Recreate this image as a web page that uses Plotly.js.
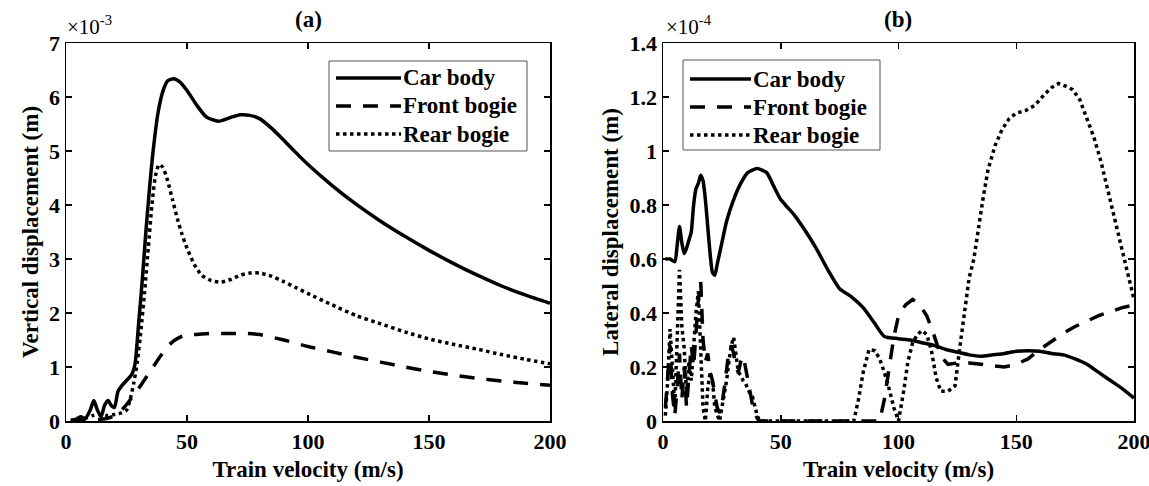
<!DOCTYPE html>
<html>
<head>
<meta charset="utf-8">
<script src="https://cdn.plot.ly/plotly-3.0.1.min.js"></script>
<style>html,body{margin:0;padding:0;background:#fff;}#chart{width:1149px;height:486px;}</style>
</head>
<body>
<div id="chart"></div>
<script>
// ---------- Panel (a): vertical displacement, x10^-3 m ----------
const carV_a = [2, 4, 6, 8, 10, 11.5, 13, 14.5, 16, 17.5, 18.5, 20, 21.5, 23, 25, 27, 28.5, 30, 31.5, 33, 34.5, 36, 38, 40, 42, 44.5, 47, 50, 54, 58, 63, 68, 72, 76, 80, 85, 90, 95, 100, 110, 120, 130, 140, 150, 160, 170, 180, 190, 200];
const carY_a = [0.02, 0.03, 0.08, 0.05, 0.2, 0.38, 0.2, 0.08, 0.3, 0.38, 0.3, 0.25, 0.55, 0.65, 0.75, 0.85, 1.05, 1.8, 2.6, 3.5, 4.3, 5.0, 5.7, 6.1, 6.3, 6.34, 6.28, 6.12, 5.85, 5.63, 5.55, 5.62, 5.67, 5.66, 5.6, 5.42, 5.2, 4.97, 4.75, 4.36, 4.01, 3.7, 3.42, 3.16, 2.92, 2.7, 2.5, 2.33, 2.18];

const frontV_a = [2, 8, 14, 18, 21, 24, 27, 30, 33, 36, 39, 42, 45, 48, 52, 56, 60, 65, 70, 75, 80, 90, 100, 110, 120, 130, 140, 150, 160, 170, 180, 190, 200];
const frontY_a = [0, 0.01, 0.03, 0.06, 0.12, 0.25, 0.42, 0.6, 0.8, 1.0, 1.2, 1.38, 1.5, 1.57, 1.6, 1.61, 1.62, 1.62, 1.62, 1.62, 1.6, 1.5, 1.38, 1.28, 1.18, 1.09, 1.0, 0.92, 0.85, 0.79, 0.74, 0.7, 0.66];

const rearV_a = [2, 5, 8, 11, 14, 17, 20, 23, 25, 26.5, 28, 29.5, 31, 32.5, 34, 35.5, 37, 38.5, 40, 42, 44, 46, 48, 50, 53, 56, 60, 64, 68, 72, 76, 80, 85, 90, 95, 100, 110, 120, 130, 140, 150, 160, 170, 180, 190, 200];
const rearY_a = [0.0, 0.02, 0.05, 0.1, 0.12, 0.1, 0.12, 0.15, 0.2, 0.4, 0.7, 1.1, 1.7, 2.4, 3.2, 4.0, 4.55, 4.75, 4.7, 4.45, 4.1, 3.75, 3.45, 3.2, 2.9, 2.7, 2.6, 2.57, 2.62, 2.7, 2.74, 2.74, 2.68, 2.58, 2.47, 2.36, 2.15, 1.95, 1.8, 1.65, 1.52, 1.42, 1.33, 1.23, 1.14, 1.06];

// ---------- Panel (b): lateral displacement, x10^-4 m ----------
const carV_b = [1, 3, 5, 6, 7, 8, 9, 10, 11, 12, 13, 14, 15, 16, 17, 18, 19, 20, 21, 22, 23, 25, 27, 30, 33, 36, 40, 44, 47, 50, 53, 56, 60, 65, 70, 75, 80, 85, 90, 94, 100, 105, 110, 115, 120, 125, 130, 135, 140, 145, 150, 155, 160, 165, 170, 175, 180, 185, 190, 195, 200];
const carY_b = [0.6, 0.6, 0.59, 0.65, 0.72, 0.66, 0.62, 0.64, 0.67, 0.7, 0.8, 0.86, 0.88, 0.91, 0.89, 0.82, 0.72, 0.62, 0.55, 0.54, 0.58, 0.66, 0.74, 0.82, 0.88, 0.92, 0.935, 0.92, 0.87, 0.82, 0.79, 0.76, 0.71, 0.64, 0.56, 0.49, 0.46, 0.42, 0.36, 0.313, 0.305, 0.3, 0.29, 0.28, 0.265, 0.255, 0.245, 0.24, 0.245, 0.25, 0.258, 0.26, 0.258, 0.25, 0.245, 0.23, 0.21, 0.18, 0.15, 0.12, 0.085];

const frontV_b = [1, 2, 3, 4, 5, 6, 7, 8, 9, 10, 11, 12, 13, 14, 15, 16, 17, 18, 19, 20, 21, 22, 23, 24, 25, 26, 27, 28, 29, 30, 31, 32, 33, 34, 35, 36, 37, 38, 39, 40, 41, 92, 94, 96, 98, 100, 103, 106, 109, 112, 115, 118, 121, 125, 130, 135, 140, 145, 150, 155, 160, 165, 170, 175, 180, 185, 190, 195, 200];
const frontY_b = [0.05, 0.15, 0.28, 0.1, 0.02, 0.12, 0.25, 0.08, 0.2, 0.05, 0.18, 0.28, 0.2, 0.35, 0.45, 0.52, 0.3, 0.22, 0.25, 0.18, 0.15, 0.1, 0.05, 0.03, 0.06, 0.12, 0.2, 0.26, 0.28, 0.25, 0.2, 0.18, 0.22, 0.24, 0.2, 0.15, 0.1, 0.06, 0.03, 0.01, 0, 0, 0.08, 0.2, 0.31, 0.39, 0.43, 0.45, 0.43, 0.39, 0.32, 0.24, 0.21, 0.215, 0.215, 0.21, 0.205, 0.2, 0.21, 0.23, 0.265, 0.295, 0.325, 0.35, 0.37, 0.39, 0.405, 0.42, 0.43];

const rearV_b = [1, 2, 3, 4, 5, 6, 7, 8, 9, 10, 11, 12, 13, 14, 15, 16, 17, 18, 19, 20, 21, 22, 23, 24, 25, 26, 27, 28, 29, 30, 31, 32, 33, 34, 35, 36, 37, 38, 39, 40, 41, 81, 83, 85, 87.5, 90, 92, 94, 96, 98, 100, 102, 104, 106, 108, 110, 112, 114, 116, 118, 121, 124, 126, 128, 130, 132, 134, 136, 138, 141, 144, 147, 150, 154, 158, 162, 165, 168, 171, 174, 177, 180, 183, 186, 189, 192, 195, 198, 200];
const rearY_b = [0.02, 0.15, 0.34, 0.2, 0.05, 0.3, 0.56, 0.35, 0.27, 0.1, 0.22, 0.15, 0.3, 0.4, 0.48, 0.25, 0.05, 0.0, 0.12, 0.18, 0.15, 0.05, 0.02, 0.0, 0.05, 0.1, 0.15, 0.22, 0.28, 0.31, 0.25, 0.18, 0.17, 0.15, 0.14, 0.12, 0.1, 0.09, 0.05, 0.02, 0, 0, 0.08, 0.18, 0.265, 0.26, 0.23, 0.18, 0.12, 0.05, 0, 0.1, 0.22, 0.29, 0.32, 0.335, 0.32, 0.26, 0.16, 0.11, 0.11, 0.13, 0.27, 0.4, 0.53, 0.6, 0.72, 0.83, 0.93, 1.02, 1.08, 1.12, 1.14, 1.15, 1.17, 1.21, 1.235, 1.25, 1.24, 1.227, 1.19, 1.12, 1.05, 0.96, 0.85, 0.75, 0.64, 0.52, 0.45];

// ---------- Tick labels / names ----------
const xTicks = [0, 50, 100, 150, 200];
const yTicks_a = [0, 1, 2, 3, 4, 5, 6, 7];
const yTicks_b = [0, 0.2, 0.4, 0.6, 0.8, 1, 1.2, 1.4];
const yTickText_b = ['0', '0.2', '0.4', '0.6', '0.8', '1', '1.2', '1.4'];
const seriesNames = ['Car body', 'Front bogie', 'Rear bogie'];

const FONT = 'Times New Roman, Liberation Serif, DejaVu Serif, serif';
const LW = 3.5;
const styles = [
  {color: '#000', width: LW, dash: 'solid'},
  {color: '#000', width: LW, dash: '15px,12px'},
  {color: '#000', width: LW, dash: '3.5px,3.5px'}
];

function tr(x, y, i, xa, ya, shape) {
  return {
    x: x, y: y, type: 'scatter', mode: 'lines', name: seriesNames[i],
    xaxis: xa, yaxis: ya, showlegend: false,
    line: Object.assign({shape: shape, smoothing: 0.6}, styles[i])
  };
}

const data = [
  tr(carV_a, carY_a, 0, 'x', 'y', 'spline'),
  tr(frontV_a, frontY_a, 1, 'x', 'y', 'spline'),
  tr(rearV_a, rearY_a, 2, 'x', 'y', 'spline'),
  tr(carV_b, carY_b, 0, 'x2', 'y2', 'spline'),
  tr(frontV_b, frontY_b, 1, 'x2', 'y2', 'linear'),
  tr(rearV_b, rearY_b, 2, 'x2', 'y2', 'linear')
];

const tickFont = {family: FONT, size: 22, color: '#000', weight: 700};
const titleFont = {family: FONT, size: 23, color: '#000', weight: 700};

function xAxis(domain, anchor) {
  return {
    domain: domain, anchor: anchor, range: [0, 200], tickvals: xTicks,
    ticks: 'inside', ticklen: 6, tickwidth: 1.5, tickcolor: '#000',
    showline: true, linecolor: '#000', linewidth: 1.5, mirror: 'ticks',
    showgrid: false, zeroline: false, tickfont: tickFont, ticklabeloverflow: 'allow',
    title: {text: 'Train velocity (m/s)', font: titleFont, standoff: 8}
  };
}
function yAxis(anchor, range, vals, text, title) {
  return {
    domain: [0, 1], anchor: anchor, range: range, tickvals: vals, ticktext: text,
    ticks: 'inside', ticklen: 6, tickwidth: 1.5, tickcolor: '#000',
    showline: true, linecolor: '#000', linewidth: 1.5, mirror: 'ticks',
    showgrid: false, zeroline: false, tickfont: tickFont, ticklabeloverflow: 'allow',
    title: {text: title, font: titleFont, standoff: 4}
  };
}

// ---------- Legend boxes (drawn in paper space, pixel helpers) ----------
const M = {l: 66, r: 15, t: 43, b: 65};
const PW = 1149 - M.l - M.r, PH = 486 - M.t - M.b;
const px = x => (x - M.l) / PW;
const py = y => (486 - M.b - y) / PH;

const shapes = [];
const annotations = [];
function addLegend(box, lineX0, lineX1, textX, rows) {
  shapes.push({type: 'rect', xref: 'paper', yref: 'paper', layer: 'above',
    x0: px(box[0]), x1: px(box[1]), y0: py(box[3]), y1: py(box[2]),
    fillcolor: '#fff', line: {color: '#555', width: 1}});
  rows.forEach((ry, i) => {
    shapes.push({type: 'line', xref: 'paper', yref: 'paper', layer: 'above',
      x0: px(lineX0), x1: px(lineX1), y0: py(ry), y1: py(ry),
      line: {color: styles[i].color, width: styles[i].width, dash: styles[i].dash}});
    annotations.push({text: seriesNames[i], xref: 'paper', yref: 'paper',
      x: px(textX), y: py(ry), xanchor: 'left', yanchor: 'middle', showarrow: false,
      font: titleFont});
  });
}
addLegend([329, 527, 61, 151], 336, 401, 401, [78, 106, 134]);
addLegend([683, 880, 60, 150], 690, 751, 751, [79, 107, 135]);

annotations.push(
  {text: '(a)', xref: 'paper', yref: 'paper', x: px(308), y: py(20), xanchor: 'center', yanchor: 'middle', showarrow: false, font: titleFont},
  {text: '(b)', xref: 'paper', yref: 'paper', x: px(898), y: py(20), xanchor: 'center', yanchor: 'middle', showarrow: false, font: titleFont},
  {text: '×10<sup>-3</sup>', xref: 'paper', yref: 'paper', x: px(65), y: py(41), xanchor: 'left', yanchor: 'bottom', showarrow: false, font: {family: FONT, size: 21, color: '#000'}},
  {text: '×10<sup>-4</sup>', xref: 'paper', yref: 'paper', x: px(664), y: py(41), xanchor: 'left', yanchor: 'bottom', showarrow: false, font: {family: FONT, size: 21, color: '#000'}}
);

const layout = {
  width: 1149, height: 486,
  margin: M,
  font: {family: FONT, color: '#000'},
  paper_bgcolor: '#fff', plot_bgcolor: '#fff',
  xaxis: xAxis([0, px(550)], 'y'),
  yaxis: yAxis('x', [0, 7], yTicks_a, yTicks_a.map(String), 'Vertical displacement (m)'),
  xaxis2: xAxis([px(663), 1], 'y2'),
  yaxis2: yAxis('x2', [0, 1.4], yTicks_b, yTickText_b, 'Lateral displacement (m)'),
  showlegend: false,
  shapes: shapes,
  annotations: annotations
};

Plotly.newPlot('chart', data, layout, {staticPlot: true, displayModeBar: false});
</script>
</body>
</html>
